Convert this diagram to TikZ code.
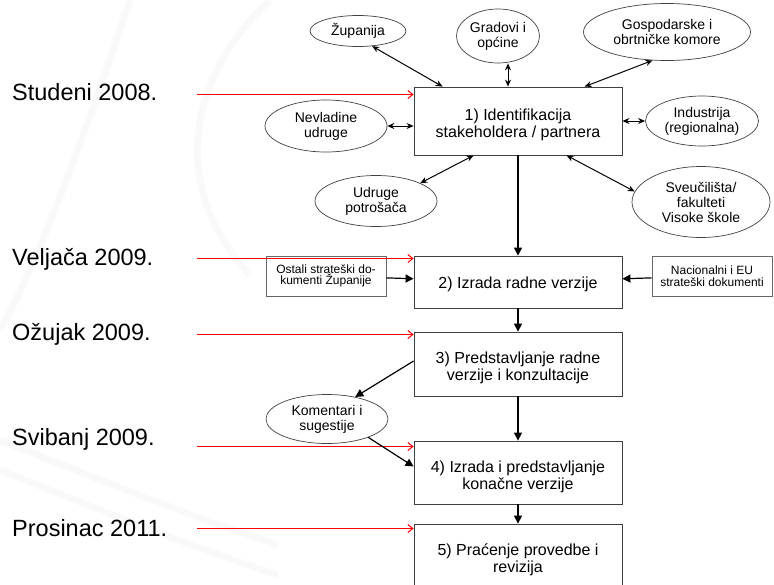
\documentclass[tikz,border=0pt]{standalone}
\usepackage{fontspec}
\setmainfont{Liberation Sans}
\usetikzlibrary{arrows.meta,shapes.geometric}

\begin{document}
\begin{tikzpicture}[x=1pt,y=-1pt]
		\tikzstyle{Korak}=[draw=black!75,line width=0.8pt,minimum width=208pt,inner sep=0pt]
		\tikzstyle{Natpis}=[inner sep=0pt,align=center,yshift=-4pt,font=\fontsize{16}{17}\selectfont]
		\tikzstyle{Partner}=[ellipse,draw=black!75,line width=0.7pt,inner sep=0pt,align=center,font=\fontsize{14}{15}\selectfont]
		\tikzstyle{Dokument}=[draw=black!60,line width=0.7pt,minimum width=120pt,minimum height=40pt,inner sep=0pt,align=center,font=\fontsize{12}{11.5}\selectfont]
		\tikzstyle{Datum}=[anchor=base west,inner sep=0pt,font=\fontsize{23.5}{26}\selectfont]
		\tikzstyle{Veza}=[{Stealth[length=7pt,width=6pt]}-{Stealth[length=7pt,width=6pt]},line width=1pt]
		\tikzstyle{Tok}=[-{Triangle[length=8pt,width=8pt]},line width=1.2pt]
		\tikzstyle{Rok}=[-{Straight Barb[length=5pt,width=8pt]},red,line width=1pt]
		\tikzstyle{Pozadina}=[gray!5,line width=7pt]
		\useasboundingbox (0,0) rectangle (774,584);
		% pozadina
		\draw[Pozadina] (270,0) .. controls (185,80) and (170,190) .. (250,275);
		\draw[Pozadina] (130,0) .. controls (90,120) and (40,260) .. (0,330);
		\draw[Pozadina] (0,440) .. controls (100,480) and (200,520) .. (278,545);
		\draw[Pozadina] (0,470) .. controls (100,510) and (200,550) .. (278,575);
		% koraci
		\node[Korak,minimum height=68pt,label={[Natpis]center:1) Identifikacija\\stakeholdera / partnera}] (ident) at (518,121) {};
		\node[Korak,minimum height=52pt,label={[Natpis,yshift=2pt]center:2) Izrada radne verzije}] (izrada) at (518,282) {};
		\node[Korak,minimum height=64pt,label={[Natpis]center:3) Predstavljanje radne\\verzije i konzultacije}] (predst) at (518,364) {};
		\node[Korak,minimum height=63pt,label={[Natpis]center:4) Izrada i predstavljanje\\konačne verzije}] (konac) at (518,472.5) {};
		\node[Korak,minimum height=64pt,label={[Natpis]center:5) Praćenje provedbe i\\revizija}] (pracenje) at (518,556) {};
		% partneri
		\node[Partner,minimum width=96pt,minimum height=31pt] (zup) at (358,31) {Županija};
		\node[Partner,minimum width=83pt,minimum height=54pt] (grad) at (498,36) {Gradovi i\\općine};
		\node[Partner,minimum width=167pt,minimum height=57pt] (gosp) at (667,32) {Gospodarske i\\obrtničke komore};
		\node[Partner,minimum width=122pt,minimum height=52pt] (nvu) at (326,126) {Nevladine\\udruge};
		\node[Partner,minimum width=113pt,minimum height=50pt] (ind) at (702,121) {Industrija\\(regionalna)};
		\node[Partner,minimum width=122pt,minimum height=51pt] (udr) at (376,201) {Udruge\\potrošača};
		\node[Partner,minimum width=138pt,minimum height=71pt] (sveu) at (701,202) {Sveučilišta/\\fakulteti\\Visoke škole};
		\node[Partner,minimum width=122pt,minimum height=49pt] (kom) at (327,419) {Komentari i\\sugestije};
		% dokumenti
		\node[Dokument] (ostali) at (326,276) {Ostali strateški do-\\kumenti Županije};
		\node[Dokument] (nac) at (712,276) {Nacionalni i EU\\strateški dokumenti};
		% datumi
		\node[Datum] (d1) at (12,100) {Studeni 2008.};
		\node[Datum] (d2) at (12,265) {Veljača 2009.};
		\node[Datum] (d3) at (12,340) {Ožujak 2009.};
		\node[Datum] (d4) at (12,445) {Svibanj 2009.};
		\node[Datum] (d5) at (12,536) {Prosinac 2011.};
		\coordinate (r1) at (197,94.5);
		\coordinate (r2) at (197,258.5);
		\coordinate (r3) at (197,334.5);
		\coordinate (r4) at (197,446.5);
		\coordinate (r5) at (197,528.5);
		\draw[Rok] (r1) -- (r1 -| ident.west);
		\draw[Rok] (r2) -- (r2 -| izrada.west);
		\draw[Rok] (r3) -- (r3 -| predst.west);
		\draw[Rok] (r4) -- (r4 -| konac.west);
		\draw[Rok] (r5) -- (r5 -| pracenje.west);
		% veze s partnerima
		\draw[Veza] (zup.-47) -- ([xshift=29pt]ident.north west);
		\draw[Veza] ([xshift=10pt]grad.south) -- ([xshift=-10pt]ident.north);
		\draw[Veza] (gosp.-117) -- ([xshift=171pt]ident.north west);
		\draw[Veza] (nvu.east) -- (nvu.east -| ident.west);
		\draw[Veza] (ind.west) -- (ind.west -| ident.east);
		\draw[Veza] (udr.22) -- ([xshift=60pt]ident.south west);
		\draw[Veza] (sveu.171) -- ([xshift=153pt]ident.south west);
		% tok
		\draw[Tok] (ident) -- (izrada);
		\draw[Tok] (izrada) -- (predst);
		\draw[Tok] (predst) -- (konac);
		\draw[Tok] (konac) -- (pracenje);
		\draw[Tok] (ostali) -- (izrada);
		\draw[Tok] (nac) -- (izrada);
		\draw[Tok] ([yshift=3pt]predst.west) -- (kom.38);
		\draw[Tok] (kom.-24) -- ([yshift=6pt]konac.west);
	\end{tikzpicture}
\end{document}
